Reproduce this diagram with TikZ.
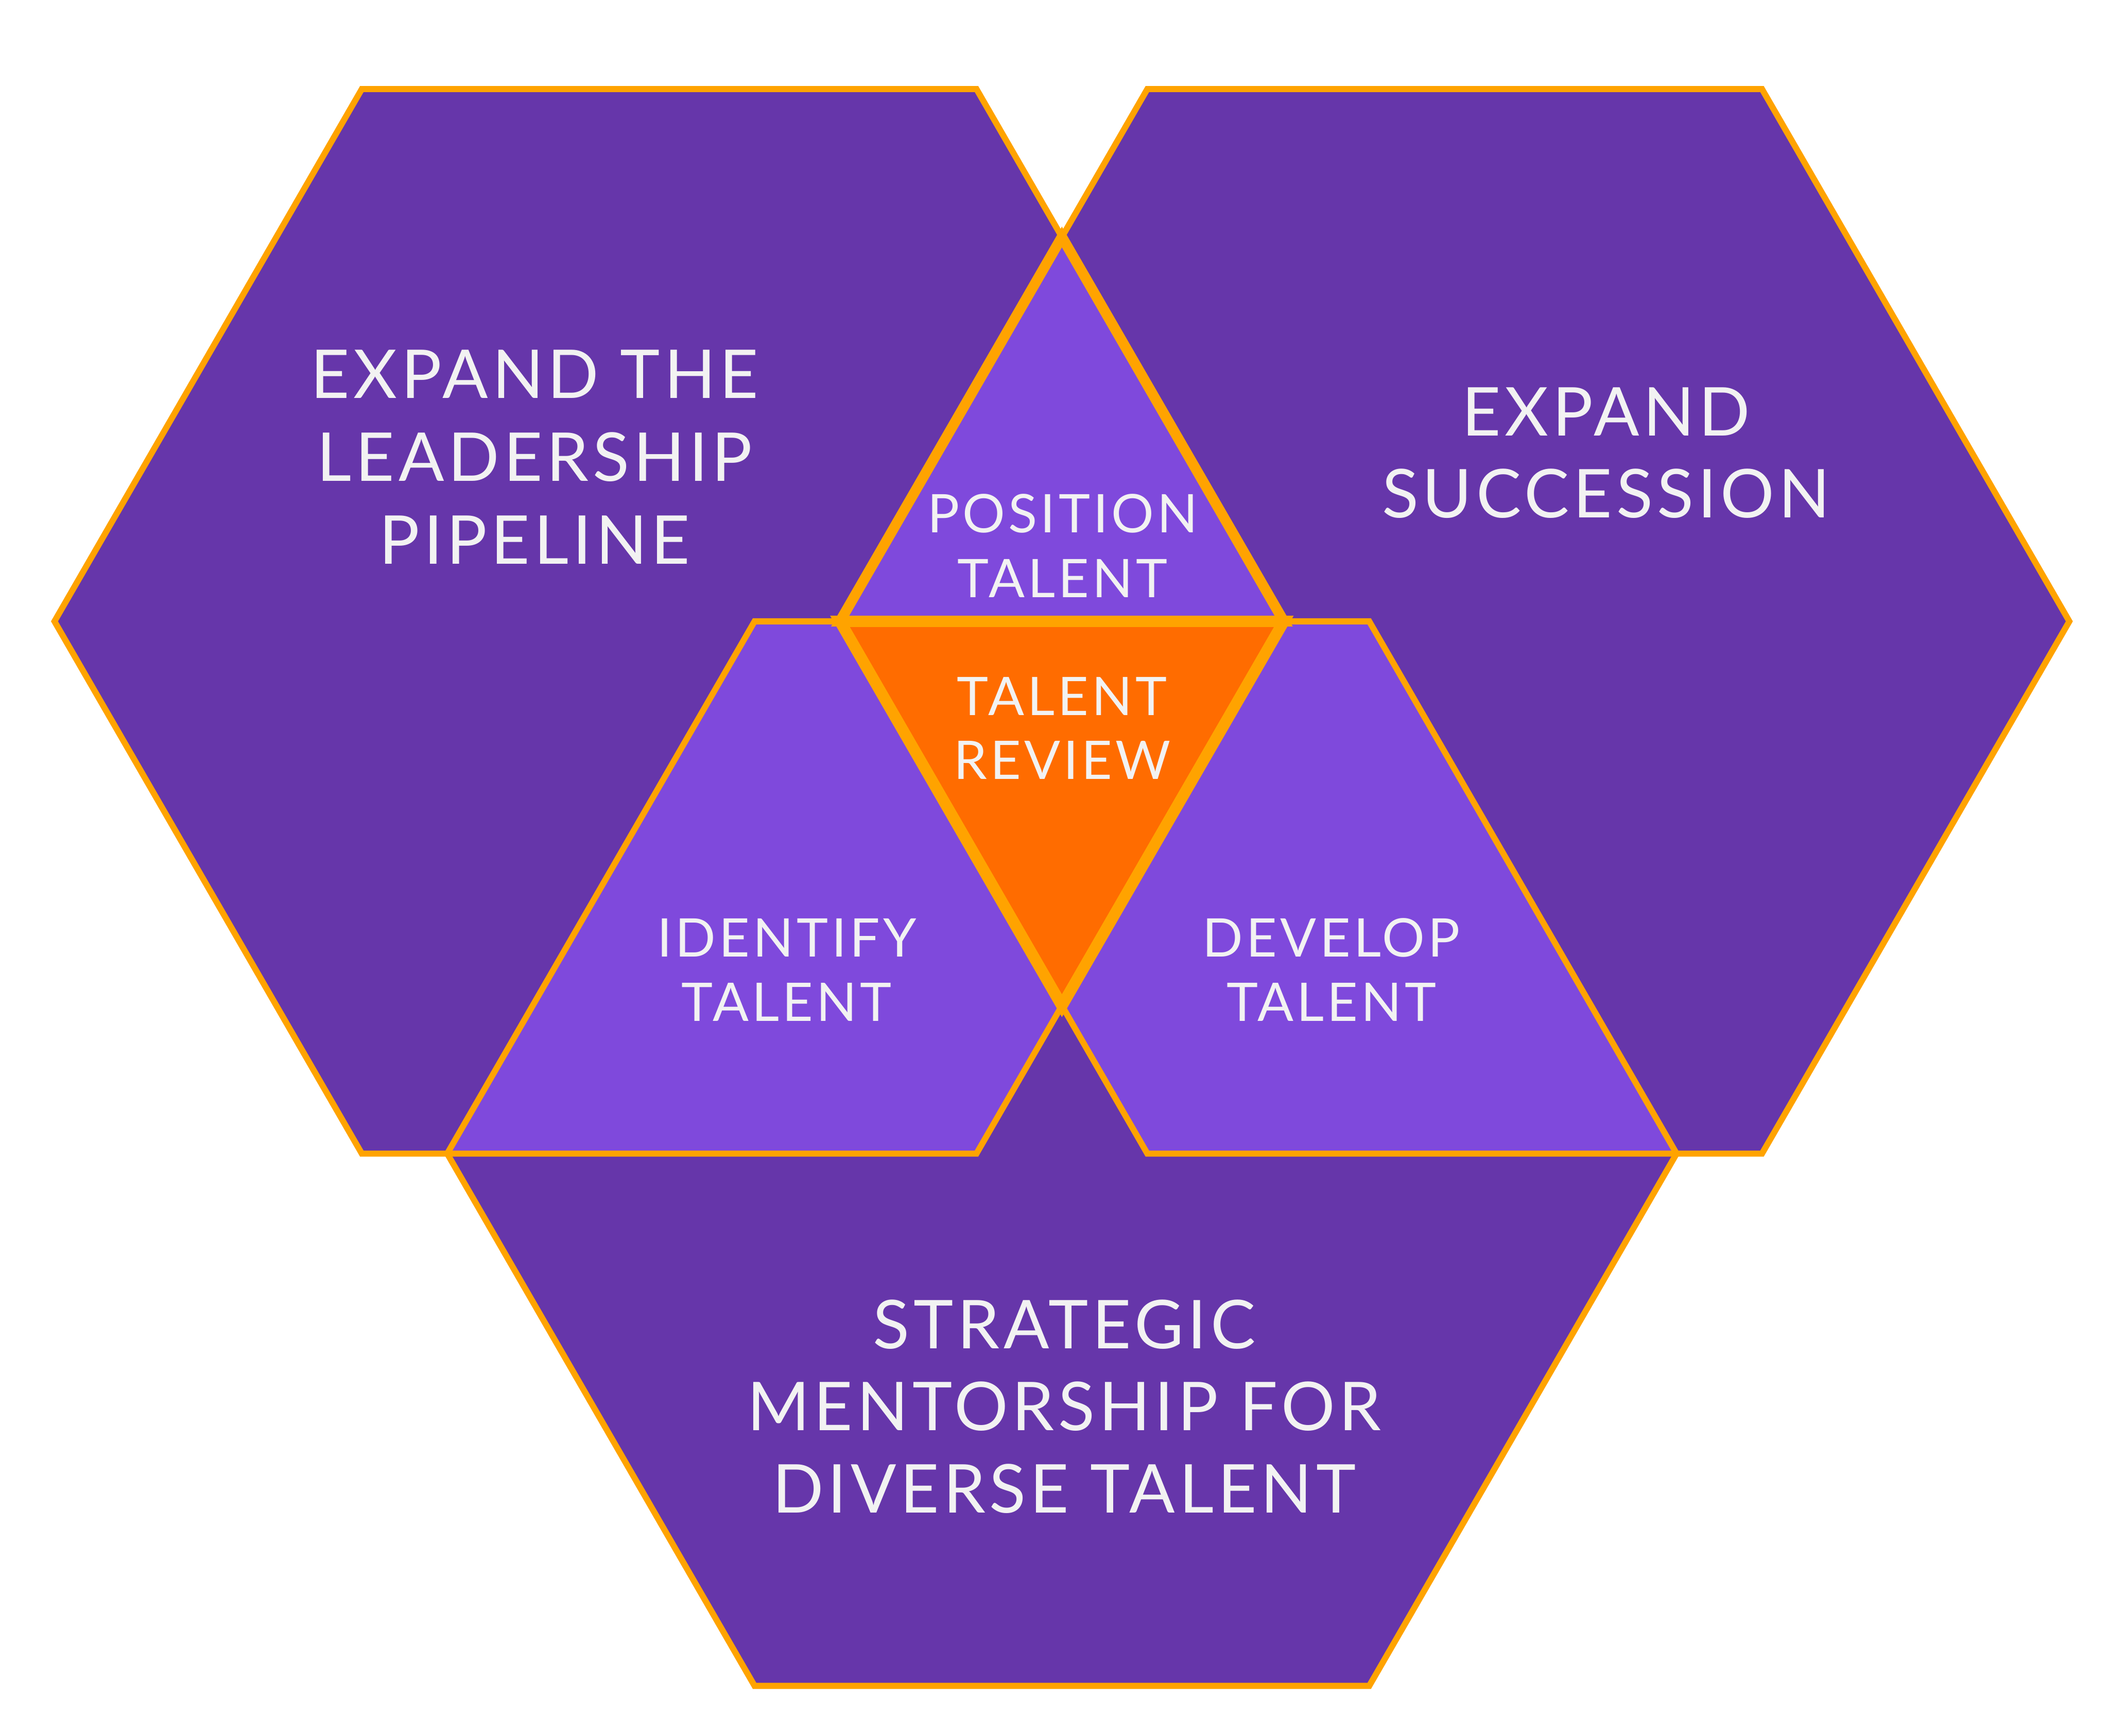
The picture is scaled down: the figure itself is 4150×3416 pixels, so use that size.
\documentclass[tikz,border=0pt]{standalone}
\usepackage{fontspec}
\setmainfont{Lato}
\newfontfamily\labfont[LetterSpace=6]{Lato}
\definecolor{hexpurple}{HTML}{6636AA}
\definecolor{lightpurple}{HTML}{7F49DC}
\definecolor{coreorange}{HTML}{FF6C00}
\definecolor{edgeorange}{HTML}{FFA300}
\definecolor{labelwhite}{HTML}{F2F2F2}
\newcommand\hexpath[1]{(#1) ++(-604.75,-1047.5) -- ++(1209.5,0) -- ++(604.75,1047.5) -- ++(-604.75,1047.5) -- ++(-1209.5,0) -- ++(-604.75,-1047.5) -- cycle}
\tikzset{
  hexfill/.style={fill=hexpurple},
  overlapfill/.style={fill=lightpurple},
  edgeline/.style={draw=edgeorange, line width=3.4pt, line join=miter},
  thickedge/.style={draw=edgeorange, line width=5.8pt, line join=miter},
  coreedge/.style={draw=edgeorange, line width=6.4pt, line join=miter},
  bigtext/.style={font=\labfont\fontsize{37.7}{45}\selectfont, text=labelwhite, inner sep=0pt, anchor=base},
  smalltext/.style={font=\labfont\fontsize{29.8}{36}\selectfont, text=labelwhite, inner sep=0pt, anchor=base}
}
\begin{document}
\begin{tikzpicture}[x=0.01cm,y=-0.01cm]
\useasboundingbox (0,0) rectangle (4150,3416);
\coordinate (cL) at (1316.7,1222.8);
\coordinate (cR) at (2862.4,1222.8);
\coordinate (cB) at (2089.55,2270.3);
\coordinate (apex) at (2089.55,466.4);
\coordinate (midL) at (1652.9,1222.8);
\coordinate (midR) at (2526.2,1222.8);
\coordinate (low) at (2089.55,1979.2);
% hexagons
\fill[hexfill] \hexpath{cL};
\fill[hexfill] \hexpath{cR};
\fill[hexfill] \hexpath{cB};
% overlaps
\begin{scope}
  \clip \hexpath{cL};
  \fill[overlapfill] \hexpath{cR};
  \fill[overlapfill] \hexpath{cB};
\end{scope}
\begin{scope}
  \clip \hexpath{cR};
  \fill[overlapfill] \hexpath{cB};
\end{scope}
\fill[coreorange] (midL) -- (midR) -- (low) -- cycle;
% outlines
\path[edgeline] \hexpath{cL};
\path[edgeline] \hexpath{cR};
\path[edgeline] \hexpath{cB};
\path[thickedge] (apex) -- (midR) -- (midL) -- cycle;
\path[coreedge] (midL) -- (midR) -- (low) -- cycle;
% labels
\node[bigtext] (lp1) at (1052,783.5) {EXPAND THE};
\node[bigtext] (lp2) at (1052,946.5) {LEADERSHIP};
\node[bigtext] (lp3) at (1052,1109.5) {PIPELINE};
\node[bigtext] (es1) at (3160,857.5) {EXPAND};
\node[bigtext] (es2) at (3160,1018.5) {SUCCESSION};
\node[bigtext] (sm1) at (2094,2654.5) {STRATEGIC};
\node[bigtext] (sm2) at (2094,2815.5) {MENTORSHIP FOR};
\node[bigtext] (sm3) at (2094,2977.5) {DIVERSE TALENT};
\node[smalltext] (pt1) at (2091,1048.5) {POSITION};
\node[smalltext] (pt2) at (2091,1175.5) {TALENT};
\node[smalltext] (tr1) at (2090,1407.5) {TALENT};
\node[smalltext] (tr2) at (2090,1533.5) {REVIEW};
\node[smalltext] (it1) at (1548,1882.5) {IDENTIFY};
\node[smalltext] (it2) at (1548,2009.5) {TALENT};
\node[smalltext] (dt1) at (2620,1882.5) {DEVELOP};
\node[smalltext] (dt2) at (2620,2009.5) {TALENT};
\end{tikzpicture}
\end{document}
